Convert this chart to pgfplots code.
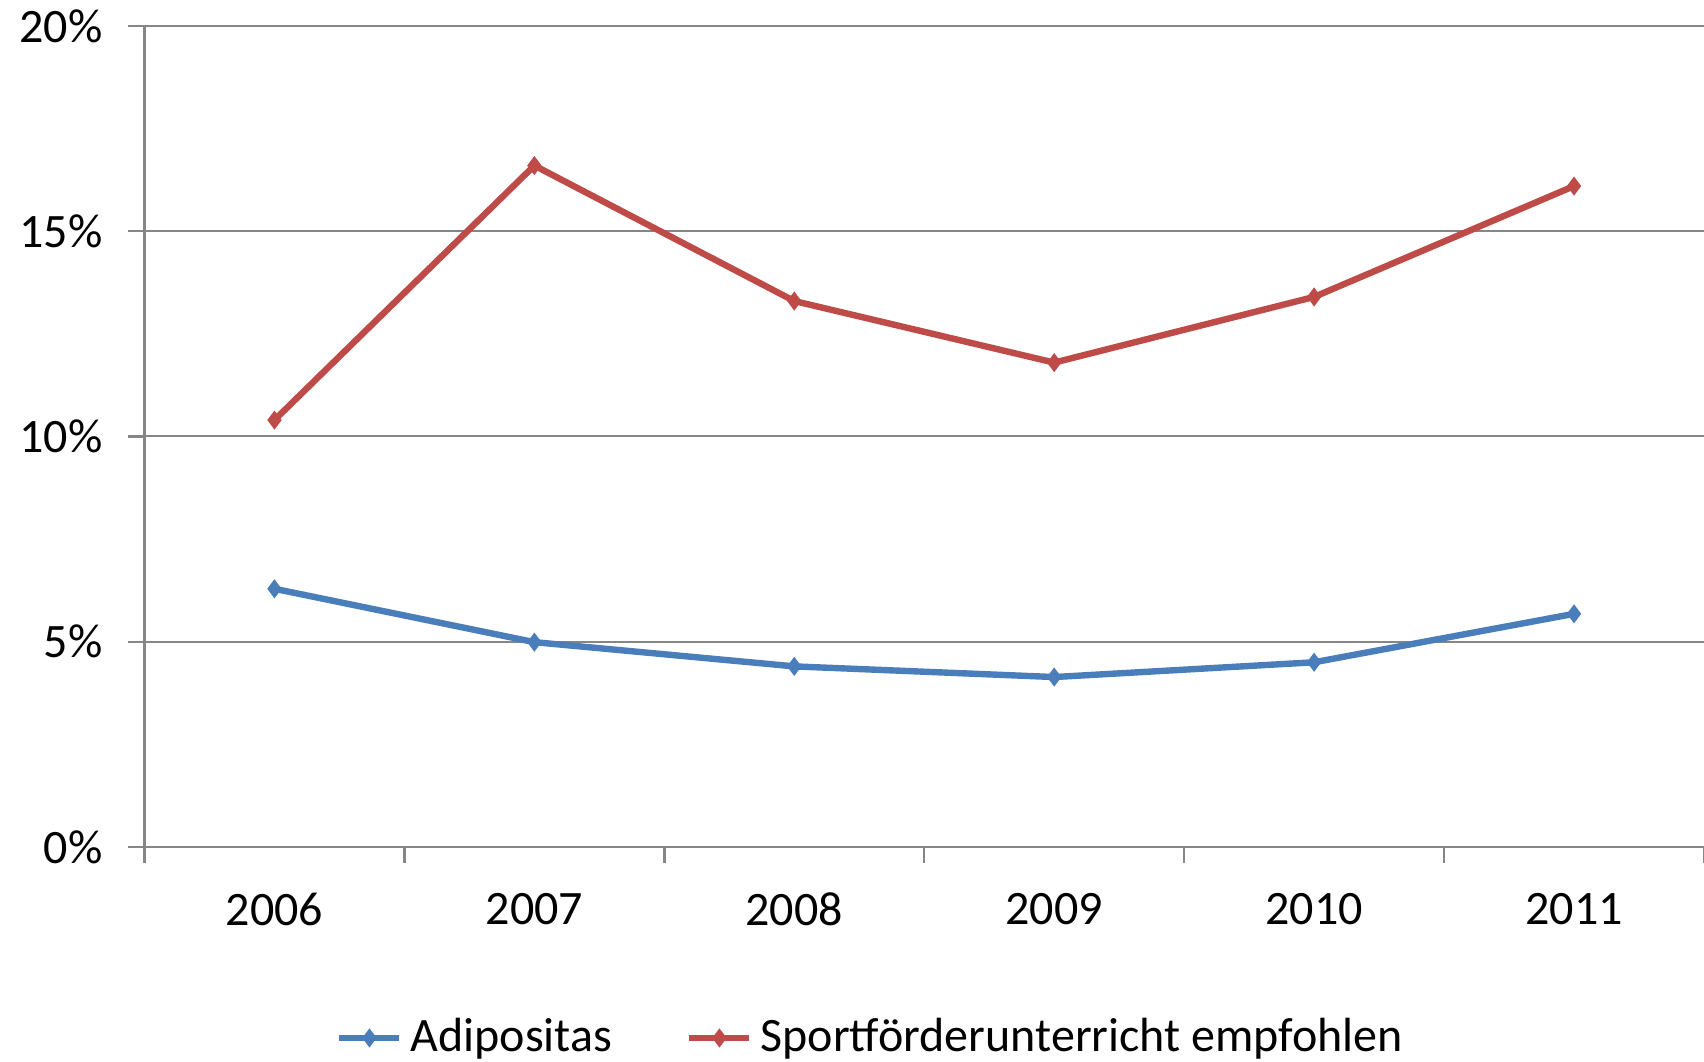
\documentclass[border=0pt]{standalone}
\usepackage{pgfplots}
\pgfplotsset{compat=1.18}
\usepackage{fontspec}
\setmainfont{Carlito}
\definecolor{exblue}{HTML}{4A7EBB}
\definecolor{exred}{HTML}{BE4B48}
\definecolor{axgray}{HTML}{868686}
\begin{document}
\begin{tikzpicture}[font=\fontsize{12}{14}\selectfont]
\useasboundingbox (0,0) rectangle (426pt,265.25pt);
\begin{axis}[
  at={(36.125pt,53.5pt)}, anchor=south west,
  scale only axis,
  width=389.875pt, height=205.25pt,
  xmin=-0.5, xmax=5.5, ymin=0, ymax=20,
  axis lines*=left,
  axis line style={axgray, line width=0.6pt},
  xtick={-0.5,0.5,1.5,2.5,3.5,4.5,5.5},
  x tick label as interval,
  xticklabels={2006,2007,2008,2009,2010,2011},
  ytick={0,5,10,15,20},
  yticklabel={\pgfmathprintnumber{\tick}\%},
  /pgf/number format/assume math mode=true,
  tick align=outside,
  major tick length=4pt,
  tick style={axgray, line width=0.6pt},
  ymajorgrids,
  grid style={axgray, line width=0.5pt},
  xticklabel style={yshift=-4pt},
  yticklabel style={xshift=-3pt},
  legend columns=2,
  legend style={at={(0.4675,-0.2326)}, anchor=center, draw=none, fill=none,
    /tikz/every even column/.append style={column sep=16.5pt},
    font=\fontsize{12}{14}\selectfont},
  legend cell align=left,
  legend image code/.code={\draw[#1, mark repeat=2, mark phase=2] plot coordinates {(0pt,0pt) (7.5pt,0pt) (15pt,0pt)};},
]
\addplot[exblue, line width=1.6pt, mark=diamond*, mark size=1.9pt, mark options={solid, line width=0.6pt}]
  coordinates {(0,6.29) (1,4.99) (2,4.40) (3,4.14) (4,4.50) (5,5.68)};
\addlegendentry{Adipositas}
\addplot[exred, line width=1.6pt, mark=diamond*, mark size=1.9pt, mark options={solid, line width=0.6pt}]
  coordinates {(0,10.4) (1,16.6) (2,13.3) (3,11.8) (4,13.4) (5,16.1)};
\addlegendentry{Sportförderunterricht empfohlen}
\end{axis}
\end{tikzpicture}
\end{document}
